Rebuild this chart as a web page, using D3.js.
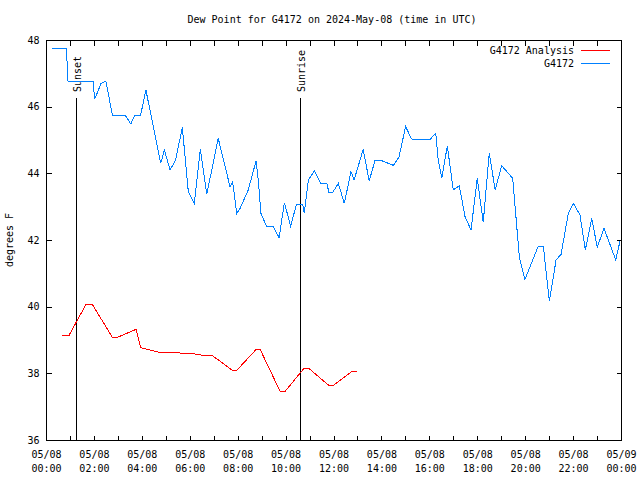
<!DOCTYPE html>
<html><head><meta charset="utf-8">
<script src="https://cdn.jsdelivr.net/npm/d3@7"></script>
<style>
body{margin:0;background:#fff}
svg{display:block}
text{font-family:"DejaVu Sans Mono","Liberation Mono",monospace;font-size:10px;fill:#000}
</style>
</head><body>
<svg id="c" width="640" height="480"></svg>
<script>
const title = "Dew Point for G4172 on 2024-May-08 (time in UTC)";
const yLabel = "degrees F";
const seriesNames = ["G4172 Analysis", "G4172"];
const seriesColors = ["#ff0000", "#0080ff"];

// G4172 Analysis (hours since 05/08 00:00 UTC, degrees F)
const analysisHours = [0.68,0.97,1.67,1.93,2.77,2.98,3.76,3.95,4.67,5.30,6.13,6.55,6.93,7.78,7.96,8.79,8.93,9.77,9.98,10.78,10.95,11.80,11.99,12.80,12.99];
const analysisValues = [39.15,39.15,40.07,40.07,39.08,39.08,39.32,38.77,38.64,38.62,38.59,38.54,38.54,38.09,38.09,38.73,38.73,37.46,37.46,38.16,38.16,37.64,37.64,38.07,38.07];

// G4172 observations
const obsHours = [0.24,0.85,0.92,1.97,2.03,2.30,2.50,2.77,3.30,3.54,3.71,3.95,4.17,4.59,4.79,4.94,5.18,5.41,5.69,5.94,6.19,6.44,6.71,7.19,7.68,7.79,7.96,8.10,8.44,8.77,8.86,8.97,9.21,9.49,9.73,9.95,10.21,10.46,10.71,10.78,10.95,11.20,11.47,11.72,11.81,11.97,12.20,12.45,12.73,12.86,13.24,13.49,13.73,14.01,14.50,14.73,15.01,15.26,16.03,16.27,16.37,16.52,16.75,17.00,17.25,17.49,17.74,18.00,18.25,18.50,18.75,19.02,19.48,19.76,19.99,20.55,20.76,21.01,21.29,21.50,21.80,22.01,22.29,22.51,22.78,23.01,23.29,23.78,23.96];
const obsValues = [47.75,47.75,46.75,46.75,46.22,46.70,46.77,45.75,45.75,45.48,45.75,45.75,46.50,45.00,44.30,44.70,44.10,44.40,45.38,43.45,43.10,44.72,43.37,45.05,43.60,43.75,42.80,42.95,43.50,44.38,43.80,42.80,42.40,42.40,42.07,43.12,42.42,43.08,43.08,42.80,43.80,44.07,43.70,43.70,43.43,43.43,43.70,43.10,44.05,43.80,44.72,43.77,44.38,44.38,44.24,44.48,45.40,45.03,45.02,45.20,44.40,43.85,44.82,43.50,43.63,42.70,42.30,43.85,42.53,44.60,43.50,44.23,43.85,41.46,40.82,41.82,41.80,40.17,41.40,41.57,42.80,43.10,42.75,41.70,42.65,41.78,42.35,41.40,41.97];

const yTicks = [36,38,40,42,44,46,48];
const xTickHours = d3.range(0, 25, 1);
const xLabelHours = d3.range(0, 25, 2);
const sunNames = ["Sunset", "Sunrise"];
const sunHours = [1.26, 10.62];

const L = 46, R = 621, T = 40, B = 440;
const svg = d3.select("#c");
const x = d3.scaleLinear().domain([0, 24]).range([L, R]);
const y = d3.scaleLinear().domain([36, 48]).range([B, T]);
const px = v => Math.round(v) + 0.5;

// title
svg.append("text").attr("x", 332).attr("y", 23).attr("text-anchor", "middle").text(title);
// y label
svg.append("text").attr("transform", "translate(13,240) rotate(-90)").attr("text-anchor", "middle").text(yLabel);

// axes
const g = svg.append("g").attr("shape-rendering", "crispEdges");
const pad2 = n => String(n).padStart(2, "0");

const xb = g.append("g").attr("transform", `translate(0,${px(B)})`)
  .call(d3.axisBottom(x).tickValues(xTickHours).tickSizeInner(-5).tickSizeOuter(0).tickPadding(8).tickFormat(""));
xb.selectAll(".tick").each(function(h) {
  if (!xLabelHours.includes(h)) return;
  const t = d3.select(this).select("text");
  t.attr("y", 0).attr("dy", null);
  t.append("tspan").attr("x", 0).attr("y", 17).text(h < 24 ? "05/08" : "05/09");
  t.append("tspan").attr("x", 0).attr("y", 31).text(pad2(h % 24) + ":00");
});
g.append("g").attr("transform", `translate(0,${px(T)})`)
  .call(d3.axisTop(x).tickValues(xTickHours).tickSizeInner(-5).tickSizeOuter(0).tickFormat(""));

const yl = g.append("g").attr("transform", `translate(${px(L)},0)`)
  .call(d3.axisLeft(y).tickValues(yTicks).tickSizeInner(-5).tickSizeOuter(0).tickPadding(8).tickFormat(d3.format("d")));
g.append("g").attr("transform", `translate(${px(R)},0)`)
  .call(d3.axisRight(y).tickValues(yTicks).tickSizeInner(-5).tickSizeOuter(0).tickFormat(""));
g.selectAll(".domain").remove();
g.selectAll(".tick line").attr("stroke", "#000");
g.selectAll("text").attr("font-family", null).attr("font-size", null).attr("fill", "#000");
yl.selectAll(".tick text").attr("x", -7);

// frame
g.append("rect").attr("x", px(L)).attr("y", px(T)).attr("width", Math.round(R) - Math.round(L)).attr("height", Math.round(B) - Math.round(T))
  .attr("fill", "none").attr("stroke", "#000");

// sun events
sunNames.forEach((n, i) => {
  const xx = px(x(sunHours[i]));
  g.append("line").attr("x1", xx).attr("x2", xx).attr("y1", 98).attr("y2", B).attr("stroke", "#000");
  svg.append("text").attr("transform", `translate(${xx + 4},92) rotate(-90)`).attr("text-anchor", "start").text(n);
});

// series
const line = d3.line().x(d => x(d[0])).y(d => y(d[1]));
const a = analysisHours.map((h, i) => [h, analysisValues[i]]);
const o = obsHours.map((h, i) => [h, obsValues[i]]);
svg.append("path").datum(a).attr("d", line).attr("fill", "none").attr("stroke", seriesColors[0]).attr("stroke-width", 1).attr("shape-rendering", "crispEdges");
svg.append("path").datum(o).attr("d", line).attr("fill", "none").attr("stroke", seriesColors[1]).attr("stroke-width", 1).attr("shape-rendering", "crispEdges");

// legend
seriesNames.forEach((n, i) => {
  const ly = 50 + i * 13;
  svg.append("text").attr("x", 574).attr("y", ly).attr("dy", "0.35em").attr("text-anchor", "end").text(n);
  svg.append("line").attr("x1", 581).attr("x2", 610).attr("y1", ly + 0.5).attr("y2", ly + 0.5).attr("stroke", seriesColors[i]).attr("shape-rendering", "crispEdges");
});
</script>
</body></html>
